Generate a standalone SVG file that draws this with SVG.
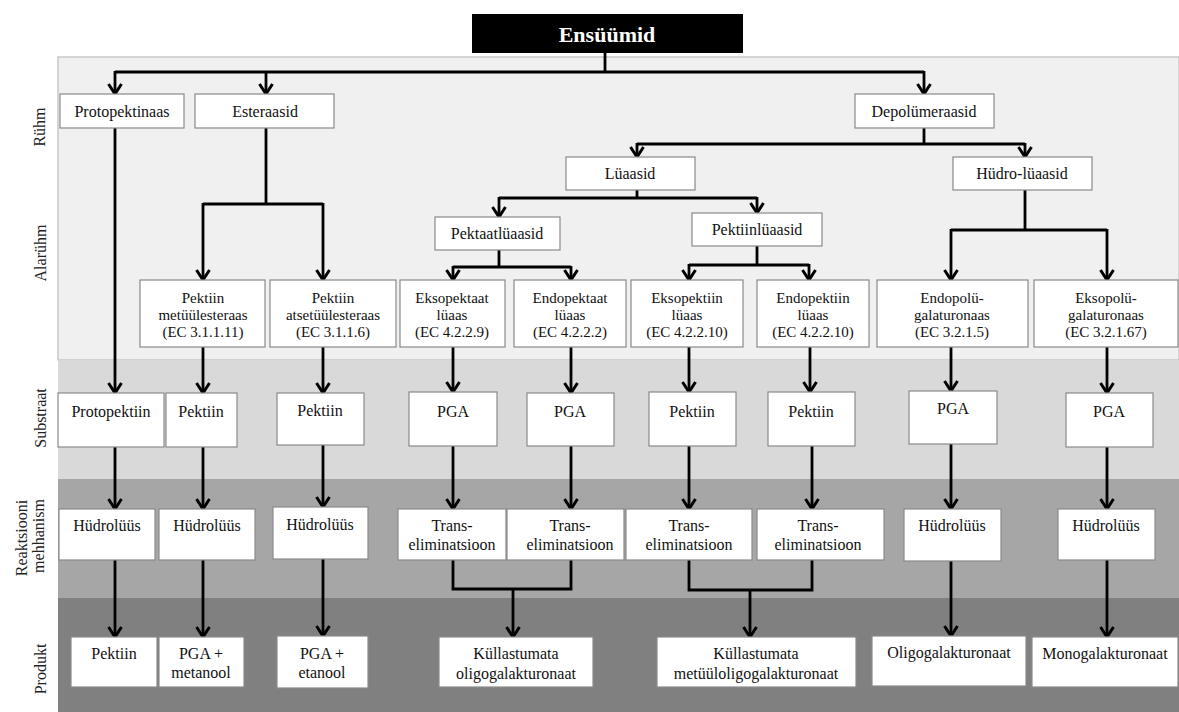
<svg xmlns="http://www.w3.org/2000/svg" width="1179" height="712" viewBox="0 0 1179 712">
<defs>
<style>
.box{fill:#fff;stroke:#8a8a8a;stroke-width:1.2}
text{font-family:'Liberation Serif','Times New Roman',serif}
.t{font-size:16px;fill:#111;text-anchor:middle}
.s{font-size:15px}
.lab{font-size:16px;fill:#222;text-anchor:middle}
.c{fill:none;stroke:#000;stroke-width:2.8}
.a{marker-end:url(#ah)}
</style>
<marker id="ah" markerUnits="userSpaceOnUse" markerWidth="20" markerHeight="20" viewBox="-12 -10 14 20" refX="0" refY="0" orient="auto">
<path d="M-10,-6.5 L0,0 L-10,6.5" fill="none" stroke="#000" stroke-width="3"/>
</marker>
</defs>
<rect x="0" y="0" width="1179" height="712" fill="#fff"/>
<g id="bands">
<rect x="58" y="57" width="1121" height="303" fill="#f0f0f0" stroke="#c8c8c8" stroke-width="1.5"/>
<rect x="58" y="360" width="1121" height="119" fill="#d9d9d9"/>
<rect x="58" y="479" width="1121" height="119" fill="#a6a6a6"/>
<rect x="58" y="598" width="1121" height="114" fill="#808080"/>
</g>
<g id="labels" font-family="Liberation Serif, Times New Roman, serif">
<text class="lab" transform="translate(45,127) rotate(-90)">Rühm</text>
<text class="lab" transform="translate(46,253) rotate(-90)">Alarühm</text>
<text class="lab" transform="translate(46,418) rotate(-90)">Substraat</text>
<text class="lab" transform="translate(27,538) rotate(-90)">Reaktsiooni</text>
<text class="lab" transform="translate(44,536) rotate(-90)">mehhanism</text>
<text class="lab" transform="translate(46,669) rotate(-90)">Produkt</text>
</g>
<g id="connectors">
<path class="c" d="M605,53 V72 M115,72 H924"/>
<path class="c a" d="M115,71 V94"/>
<path class="c a" d="M266,72 V94"/>
<path class="c a" d="M924,71 V94"/>
<path class="c" d="M924,128 V144 M637,144 H1025"/>
<path class="c a" d="M637,143 V157"/>
<path class="c a" d="M1025,143 V157"/>
<path class="c" d="M637,190 V198 M499,198 H757"/>
<path class="c a" d="M499,197 V217"/>
<path class="c a" d="M757,197 V213"/>
<path class="c" d="M499,250 V267 M453,267 H571"/>
<path class="c a" d="M453,266 V280"/>
<path class="c a" d="M571,266 V280"/>
<path class="c" d="M757,246 V265 M689,265 H809"/>
<path class="c a" d="M689,264 V280"/>
<path class="c a" d="M809,264 V280"/>
<path class="c" d="M1025,190 V230 M951,230 H1107"/>
<path class="c a" d="M951,229 V280"/>
<path class="c a" d="M1107,229 V280"/>
<path class="c" d="M266,128 V204 M203,204 H323"/>
<path class="c a" d="M203,203 V280"/>
<path class="c a" d="M323,203 V280"/>
<path class="c a" d="M115,128 V393"/>
<path class="c a" d="M203,347 V393"/>
<path class="c a" d="M323,347 V393"/>
<path class="c a" d="M453,347 V392"/>
<path class="c a" d="M571,347 V393"/>
<path class="c a" d="M689,347 V392"/>
<path class="c a" d="M810,347 V392"/>
<path class="c a" d="M951,347 V391"/>
<path class="c a" d="M1107,347 V393"/>
<path class="c a" d="M115,447 V509"/>
<path class="c a" d="M203,447 V509"/>
<path class="c a" d="M323,445 V507"/>
<path class="c a" d="M453,446 V509"/>
<path class="c a" d="M571,446 V509"/>
<path class="c a" d="M689,446 V509"/>
<path class="c a" d="M812,446 V509"/>
<path class="c a" d="M951,444 V509"/>
<path class="c a" d="M1107,447 V509"/>
<path class="c a" d="M115,560 V637"/>
<path class="c a" d="M203,560 V637"/>
<path class="c a" d="M323,559 V636"/>
<path class="c" d="M453,560 V589 H571 V560"/>
<path class="c a" d="M513,589 V637"/>
<path class="c" d="M689,560 V590 H812 V560"/>
<path class="c a" d="M750,590 V637"/>
<path class="c a" d="M951,561 V636"/>
<path class="c a" d="M1107,560 V637"/>
</g>
<g id="nodes" font-family="Liberation Serif, Times New Roman, serif">
<g id="ensuumid">
<rect x="472" y="14" width="271" height="39" fill="#000"/>
<text x="607" y="42" font-size="22" font-weight="bold" fill="#fff" text-anchor="middle">Ensüümid</text>
</g>
<g id="protopektinaas"><rect class="box" x="60" y="94" width="124" height="34"/><text class="t" x="122" y="117">Protopektinaas</text></g>
<g id="esteraasid"><rect class="box" x="195" y="94" width="139" height="34"/><text class="t" x="265" y="117">Esteraasid</text></g>
<g id="depolumeraasid"><rect class="box" x="855" y="94" width="139" height="34"/><text class="t" x="924" y="117">Depolümeraasid</text></g>
<g id="luaasid"><rect class="box" x="566" y="157" width="129" height="33"/><text class="t" x="630" y="179">Lüaasid</text></g>
<g id="hudro-luaasid"><rect class="box" x="953" y="157" width="139" height="33"/><text class="t" x="1022" y="179">Hüdro-lüaasid</text></g>
<g id="pektaatluaasid"><rect class="box" x="435" y="217" width="125" height="33"/><text class="t" x="497" y="239">Pektaatlüaasid</text></g>
<g id="pektiinluaasid"><rect class="box" x="692" y="213" width="130" height="33"/><text class="t" x="757" y="235">Pektiinlüaasid</text></g>
<g id="pme"><rect class="box" x="140" y="280" width="125" height="67"/><text class="t s" x="203" y="303">Pektiin</text><text class="t s" x="203" y="320">metüülesteraas</text><text class="t s" x="203" y="337">(EC 3.1.1.11)</text></g>
<g id="pae"><rect class="box" x="270" y="280" width="126" height="67"/><text class="t s" x="333" y="303">Pektiin</text><text class="t s" x="333" y="320">atsetüülesteraas</text><text class="t s" x="333" y="337">(EC 3.1.1.6)</text></g>
<g id="eksopektaat"><rect class="box" x="400" y="280" width="105" height="67"/><text class="t s" x="452" y="303">Eksopektaat</text><text class="t s" x="452" y="320">lüaas</text><text class="t s" x="452" y="337">(EC 4.2.2.9)</text></g>
<g id="endopektaat"><rect class="box" x="514" y="280" width="112" height="67"/><text class="t s" x="570" y="303">Endopektaat</text><text class="t s" x="570" y="320">lüaas</text><text class="t s" x="570" y="337">(EC 4.2.2.2)</text></g>
<g id="eksopektiin"><rect class="box" x="631" y="280" width="112" height="67"/><text class="t s" x="687" y="303">Eksopektiin</text><text class="t s" x="687" y="320">lüaas</text><text class="t s" x="687" y="337">(EC 4.2.2.10)</text></g>
<g id="endopektiin"><rect class="box" x="757" y="280" width="112" height="67"/><text class="t s" x="813" y="303">Endopektiin</text><text class="t s" x="813" y="320">lüaas</text><text class="t s" x="813" y="337">(EC 4.2.2.10)</text></g>
<g id="endopoly"><rect class="box" x="877" y="280" width="151" height="67"/><text class="t s" x="952" y="303">Endopolü-</text><text class="t s" x="952" y="320">galaturonaas</text><text class="t s" x="952" y="337">(EC 3.2.1.5)</text></g>
<g id="eksopoly"><rect class="box" x="1034" y="280" width="144" height="67"/><text class="t s" x="1106" y="303">Eksopolü-</text><text class="t s" x="1106" y="320">galaturonaas</text><text class="t s" x="1106" y="337">(EC 3.2.1.67)</text></g>
<g id="sub-protopektiin"><rect class="box" x="58" y="393" width="106" height="54"/><text class="t" x="111" y="417">Protopektiin</text></g>
<g id="sub-pektiin1"><rect class="box" x="166" y="393" width="71" height="54"/><text class="t" x="201" y="417">Pektiin</text></g>
<g id="sub-pektiin2"><rect class="box" x="277" y="393" width="87" height="52"/><text class="t" x="320" y="416">Pektiin</text></g>
<g id="sub-pga1"><rect class="box" x="409" y="392" width="88" height="54"/><text class="t" x="453" y="417">PGA</text></g>
<g id="sub-pga2"><rect class="box" x="527" y="393" width="87" height="53"/><text class="t" x="570" y="417">PGA</text></g>
<g id="sub-pektiin3"><rect class="box" x="649" y="392" width="87" height="54"/><text class="t" x="692" y="417">Pektiin</text></g>
<g id="sub-pektiin4"><rect class="box" x="768" y="392" width="87" height="54"/><text class="t" x="811" y="417">Pektiin</text></g>
<g id="sub-pga3"><rect class="box" x="909" y="391" width="88" height="53"/><text class="t" x="953" y="414">PGA</text></g>
<g id="sub-pga4"><rect class="box" x="1066" y="393" width="87" height="54"/><text class="t" x="1109" y="417">PGA</text></g>
<g id="mech-h1"><rect class="box" x="59" y="509" width="96" height="51"/><text class="t" x="107" y="531">Hüdrolüüs</text></g>
<g id="mech-h2"><rect class="box" x="159" y="509" width="96" height="51"/><text class="t" x="207" y="531">Hüdrolüüs</text></g>
<g id="mech-h3"><rect class="box" x="273" y="507" width="95" height="52"/><text class="t" x="320" y="530">Hüdrolüüs</text></g>
<g id="mech-t1"><rect class="box" x="398" y="509" width="108" height="51"/><text class="t" x="452" y="531">Trans-</text><text class="t" x="452" y="550">eliminatsioon</text></g>
<g id="mech-t2"><rect class="box" x="507" y="509" width="117" height="51"/><text class="t" x="570" y="531">Trans-</text><text class="t" x="570" y="550">eliminatsioon</text></g>
<g id="mech-t3"><rect class="box" x="626" y="509" width="126" height="51"/><text class="t" x="689" y="531">Trans-</text><text class="t" x="689" y="550">eliminatsioon</text></g>
<g id="mech-t4"><rect class="box" x="757" y="509" width="127" height="51"/><text class="t" x="818" y="531">Trans-</text><text class="t" x="818" y="550">eliminatsioon</text></g>
<g id="mech-h4"><rect class="box" x="904" y="509" width="97" height="52"/><text class="t" x="952" y="531">Hüdrolüüs</text></g>
<g id="mech-h5"><rect class="box" x="1058" y="509" width="97" height="51"/><text class="t" x="1106" y="531">Hüdrolüüs</text></g>
<g id="prod-pektiin"><rect class="box" x="71" y="637" width="86" height="50"/><text class="t" x="114" y="659">Pektiin</text></g>
<g id="prod-pga-met"><rect class="box" x="159" y="637" width="85" height="50"/><text class="t" x="201" y="659">PGA +</text><text class="t" x="201" y="678">metanool</text></g>
<g id="prod-pga-et"><rect class="box" x="277" y="636" width="91" height="52"/><text class="t" x="322" y="659">PGA +</text><text class="t" x="322" y="678">etanool</text></g>
<g id="prod-kull1"><rect class="box" x="439" y="637" width="154" height="50"/><text class="t" x="516" y="659">Küllastumata</text><text class="t" x="516" y="679">oligogalakturonaat</text></g>
<g id="prod-kull2"><rect class="box" x="657" y="637" width="199" height="50"/><text class="t" x="756" y="659">Küllastumata</text><text class="t" x="756" y="679">metüüloligogalakturonaat</text></g>
<g id="prod-oligo"><rect class="box" x="872" y="636" width="154" height="50"/><text class="t" x="949" y="658">Oligogalakturonaat</text></g>
<g id="prod-mono"><rect class="box" x="1032" y="637" width="146" height="50"/><text class="t" x="1105" y="659">Monogalakturonaat</text></g>
</g>
</svg>
